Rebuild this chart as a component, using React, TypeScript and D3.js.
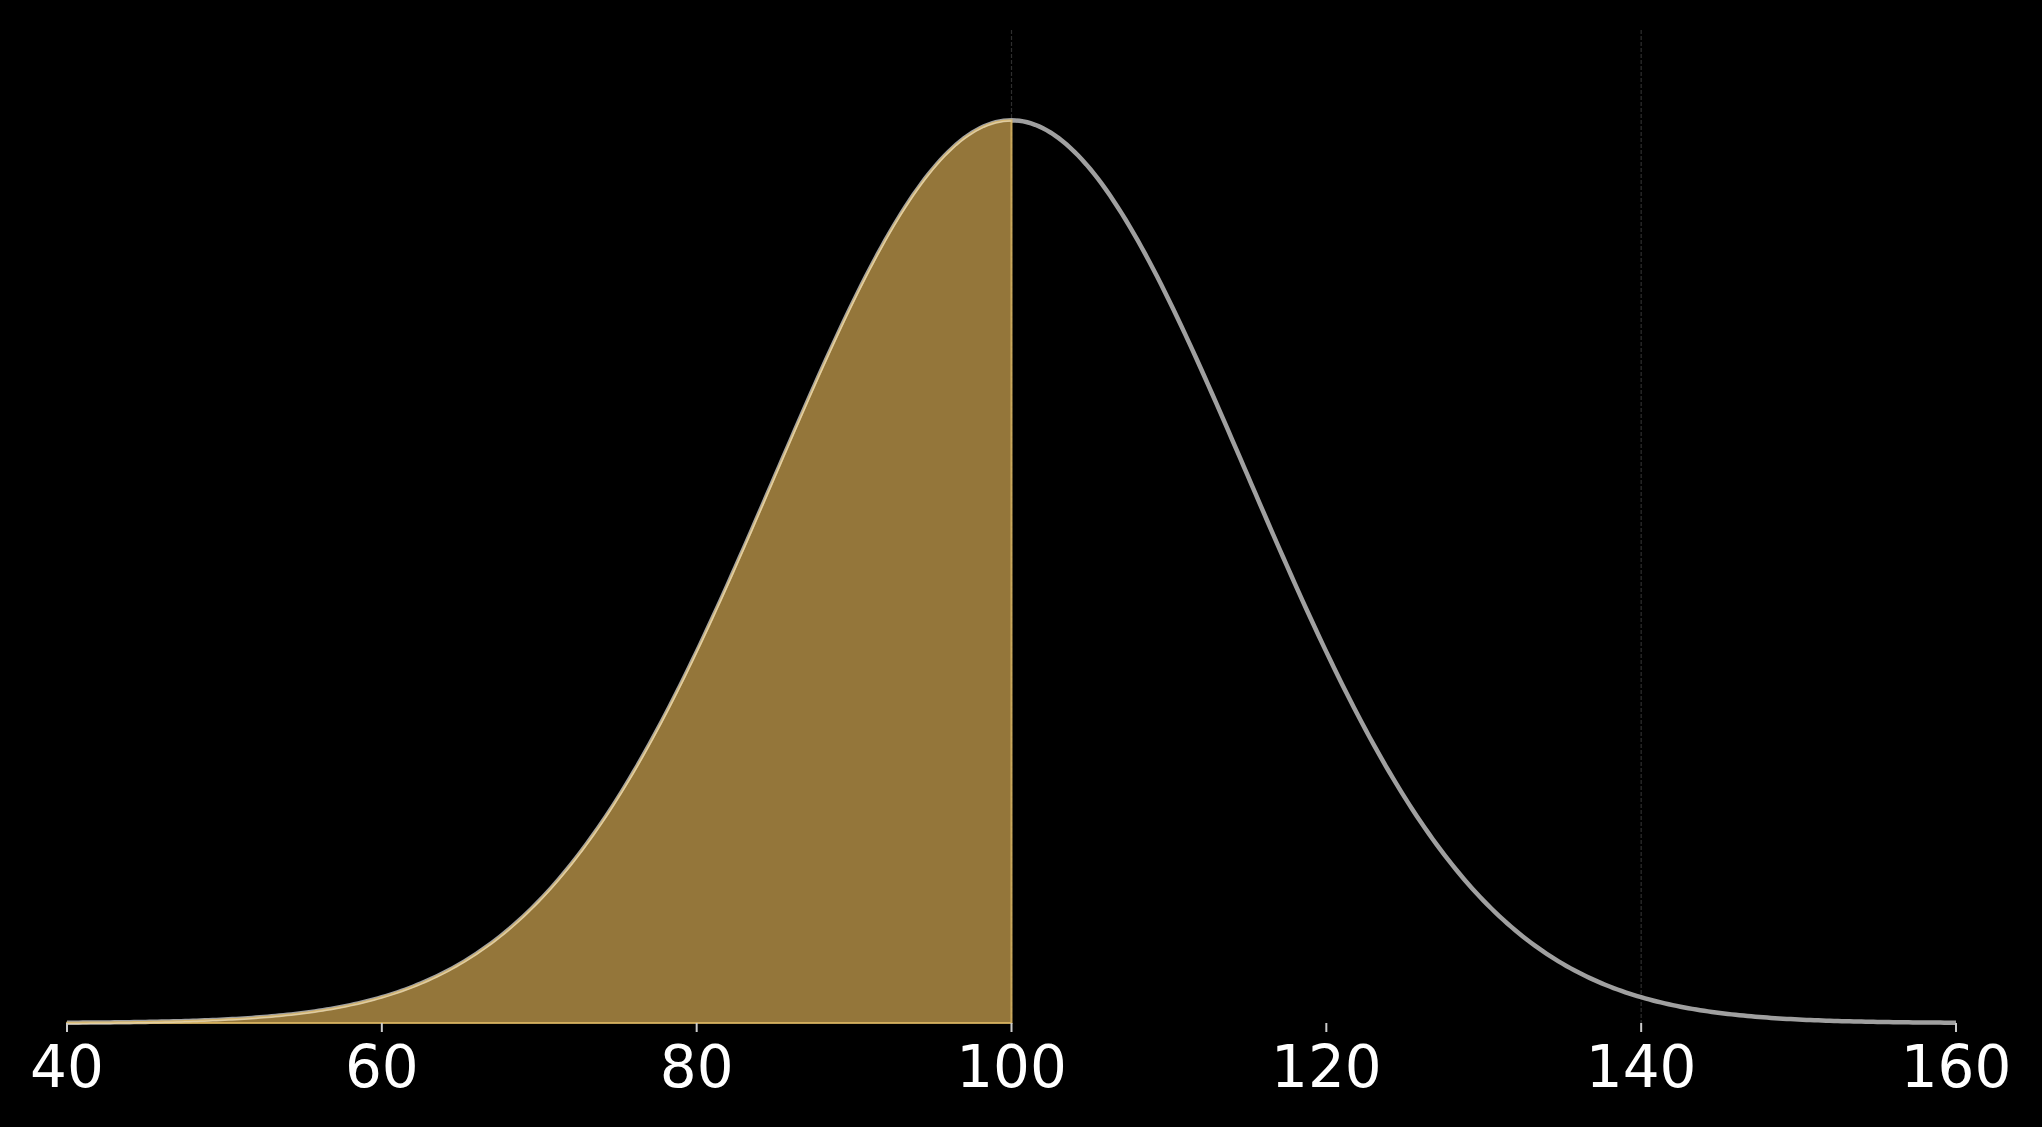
import React, { useEffect } from "react";
import * as d3 from "d3";

const MEAN = [100];
const SD = [15];
const X_DOMAIN = [40, 160];
const FILL_RANGE = [40, 100];
const TICKS = [40, 60, 80, 100, 120, 140, 160];
const REF_LINES = [100, 140];

const W = 2042;
const H = 1127;

export default function App() {
  useEffect(() => {
    document.body.style.margin = "0";
    document.body.style.background = "#000";
  }, []);

  const mu = MEAN[0];
  const sd = SD[0];
  const pdf = (x: number) =>
    Math.exp(-((x - mu) ** 2) / (2 * sd * sd)) / (sd * Math.sqrt(2 * Math.PI));

  const x = d3.scaleLinear().domain(X_DOMAIN).range([67, 1956]);
  const peak = pdf(mu);
  const y = d3.scaleLinear().domain([0, peak * 1.1]).range([1023, 30]);

  const samples = d3.range(X_DOMAIN[0], X_DOMAIN[1] + 0.001, 0.25);
  const line = d3
    .line<number>()
    .x((d) => x(d))
    .y((d) => y(pdf(d)));
  const fillSamples = samples.filter((d) => d >= FILL_RANGE[0] && d <= FILL_RANGE[1]);
  const area = d3
    .area<number>()
    .x((d) => x(d))
    .y0(y(0))
    .y1((d) => y(pdf(d)));

  return (
    <svg
      width={W}
      height={H}
      style={{ display: "block", position: "absolute", left: 0, top: 0, background: "#000" }}
    >
      <rect x={0} y={0} width={W} height={H} fill="#000" />
      {REF_LINES.map((v) => (
        <line
          key={v}
          x1={x(v)}
          x2={x(v)}
          y1={30}
          y2={y(0)}
          stroke="#2e2e2e"
          strokeWidth={1.2}
          strokeDasharray="4,2"
        />
      ))}
      <path d={line(samples) || ""} fill="none" stroke="#a0a0a0" strokeWidth={4.5} />
      <path
        d={area(fillSamples) || ""}
        fill="rgb(148,118,58)"
        stroke="rgb(222,184,100)"
        strokeWidth={2}
        strokeOpacity={0.85}
      />
      <path d={line(fillSamples) || ""} fill="none" stroke="rgb(230,215,180)" strokeWidth={1.5} strokeOpacity={0.8} transform="translate(0,0.8)" />
      {TICKS.map((t) => (
        <g key={t} transform={`translate(${x(t)},0)`}>
          <line y1={y(0)} y2={y(0) + 9} stroke="#cccccc" strokeWidth={2} />
          <text
            y={1087}
            textAnchor="middle"
            fill="#ffffff"
            fontFamily="DejaVu Sans"
            fontSize={58}
          >
            {t}
          </text>
        </g>
      ))}
    </svg>
  );
}
